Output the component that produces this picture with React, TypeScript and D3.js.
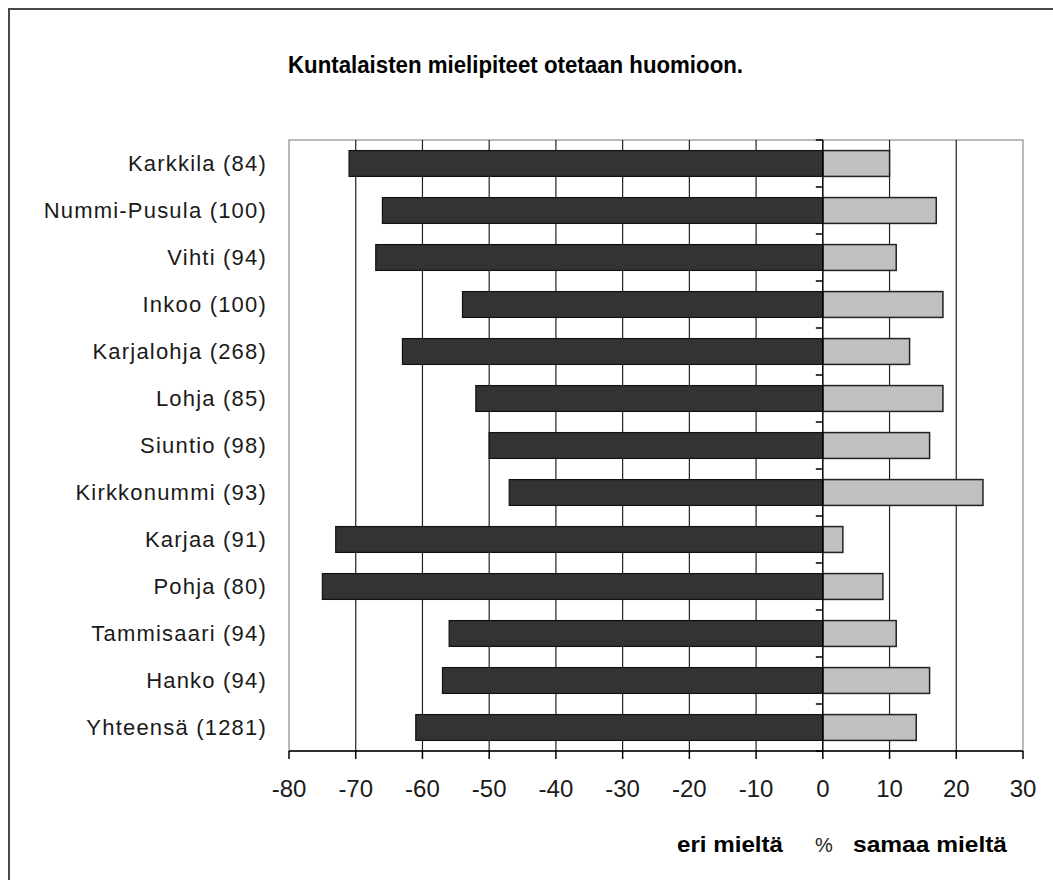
import React from 'react';
import * as d3 from 'd3';

const categories = [
  'Karkkila (84)',
  'Nummi-Pusula (100)',
  'Vihti (94)',
  'Inkoo (100)',
  'Karjalohja (268)',
  'Lohja (85)',
  'Siuntio (98)',
  'Kirkkonummi (93)',
  'Karjaa (91)',
  'Pohja (80)',
  'Tammisaari (94)',
  'Hanko (94)',
  'Yhteensä (1281)',
];
// eri mieltä (disagree), negative side
const disagree = [-71, -66, -67, -54, -63, -52, -50, -47, -73, -75, -56, -57, -61];
// samaa mieltä (agree), positive side
const agree = [10, 17, 11, 18, 13, 18, 16, 24, 3, 9, 11, 16, 14];
const xTicks = [-80, -70, -60, -50, -40, -30, -20, -10, 0, 10, 20, 30];

const W = 1053;
const H = 880;
const font = '"Liberation Sans", Arial, sans-serif';

export default function App() {
  const plot = { left: 289, right: 1023, top: 140, bottom: 751 };

  const x = d3.scaleLinear().domain([-80, 30]).range([plot.left, plot.right]);
  const y = d3
    .scaleBand<string>()
    .domain(categories)
    .range([plot.top, plot.bottom])
    .paddingInner(0.45)
    .paddingOuter(0.225);
  const step = y.step();
  const x0 = x(0);

  return (
    <svg
      width={W}
      height={H}
      style={{ position: 'absolute', left: 0, top: 0, background: '#fff' }}
    >
      {/* outer frame */}
      <rect x={9} y={9} width={W + 10} height={H + 10} fill="#fff" stroke="#4a4a4a" strokeWidth={2} />

      <text
        x={288}
        y={73}
        fontFamily={font}
        fontWeight="bold"
        fontSize={23}
        textLength={455}
        lengthAdjust="spacingAndGlyphs"
        fill="#000"
      >
        Kuntalaisten mielipiteet otetaan huomioon.
      </text>

      {/* plot frame */}
      <rect
        x={plot.left}
        y={plot.top}
        width={plot.right - plot.left}
        height={plot.bottom - plot.top}
        fill="#fff"
        stroke="#8c8c8c"
        strokeWidth={1.2}
      />

      {/* gridlines */}
      {xTicks
        .filter((t) => t !== -80 && t !== 30 && t !== 0)
        .map((t) => (
          <line
            key={'g' + t}
            x1={x(t)}
            x2={x(t)}
            y1={plot.top}
            y2={plot.bottom}
            stroke="#222"
            strokeWidth={1.2}
          />
        ))}

      {/* bars */}
      {categories.map((c, i) => (
        <g key={c}>
          <rect
            x={x(disagree[i])}
            y={y(c)}
            width={x0 - x(disagree[i])}
            height={y.bandwidth()}
            fill="#333333"
            stroke="#111"
            strokeWidth={1.2}
          />
          <rect
            x={x0}
            y={y(c)}
            width={x(agree[i]) - x0}
            height={y.bandwidth()}
            fill="#c0c0c0"
            stroke="#222"
            strokeWidth={1.5}
          />
        </g>
      ))}

      {/* y axis at zero with category ticks */}
      <line x1={x0} x2={x0} y1={plot.top} y2={plot.bottom} stroke="#000" strokeWidth={1.5} />
      {d3.range(categories.length + 1).map((i) => (
        <line
          key={'yt' + i}
          x1={x0 - 7}
          x2={x0}
          y1={plot.top + i * step}
          y2={plot.top + i * step}
          stroke="#000"
          strokeWidth={1.5}
        />
      ))}

      {/* category labels */}
      {categories.map((c) => (
        <text
          key={'l' + c}
          x={267}
          y={(y(c) ?? 0) + y.bandwidth() / 2}
          dy="0.36em"
          textAnchor="end"
          fontFamily={font}
          fontSize={22}
          letterSpacing={1.2}
          fill="#1a1a1a"
        >
          {c}
        </text>
      ))}

      {/* x axis */}
      <line x1={plot.left} x2={plot.right} y1={plot.bottom} y2={plot.bottom} stroke="#000" strokeWidth={1.5} />
      {xTicks.map((t) => (
        <g key={'xt' + t}>
          <line x1={x(t)} x2={x(t)} y1={plot.bottom} y2={plot.bottom + 8} stroke="#000" strokeWidth={1.5} />
          <text
            x={x(t)}
            y={797}
            textAnchor="middle"
            fontFamily={font}
            fontSize={24}
            fill="#1a1a1a"
          >
            {t}
          </text>
        </g>
      ))}

      {/* bottom captions */}
      <text x={677} y={852} fontFamily={font} fontWeight="bold" fontSize={22} textLength={106} lengthAdjust="spacingAndGlyphs">
        eri mieltä
      </text>
      <text x={815} y={852} fontFamily={font} fontSize={20} fill="#222">
        %
      </text>
      <text x={853} y={852} fontFamily={font} fontWeight="bold" fontSize={22} textLength={154} lengthAdjust="spacingAndGlyphs">
        samaa mieltä
      </text>
    </svg>
  );
}
